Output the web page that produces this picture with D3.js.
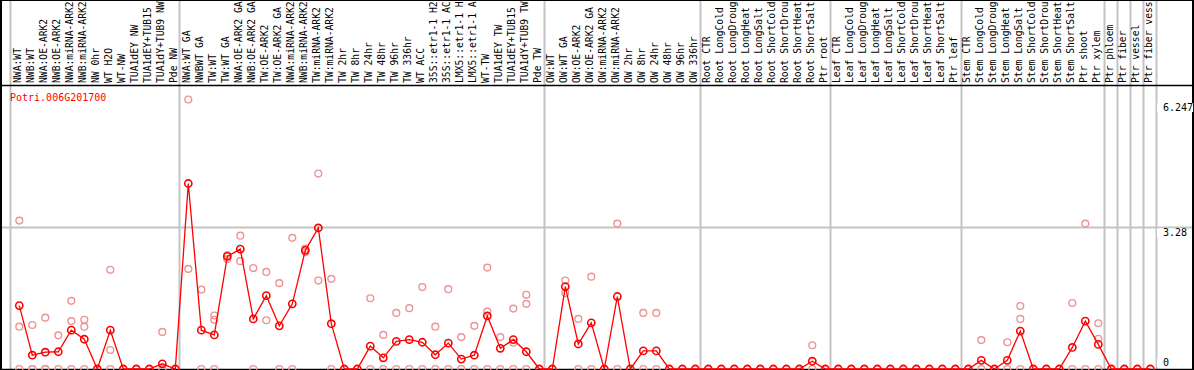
<!DOCTYPE html>
<html>
<head>
<meta charset="utf-8">
<script src="https://cdn.jsdelivr.net/npm/d3@7"></script>
<style>
  body { margin: 0; background: #fff; }
  svg { display: block; font-family: "DejaVu Sans Mono", monospace; font-size: 10px; }
</style>
</head>
<body>
<svg id="chart"></svg>
<script>
// gene shown in the plot
const geneId = 'Potri.006G201700';

// sample names as far as the header shows them
const samples = [
  'NWA:WT', 'NWB:WT', 'NWA:OE-ARK2', 'NWB:OE-ARK2', 'NWA:miRNA-ARK2', 'NWB:miRNA-ARK2', 'NW 0hr', 'WT H2O', 'WT-NW',
  'TUA1dEY NW', 'TUA1dEY+TUB15', 'TUA1dY+TUB9 NW', 'Pde NW',
  'NWA:WT GA', 'NWBWT GA', 'TW:WT', 'TW:WT GA', 'NWA:OE-ARK2 GA', 'NWB:OE-ARK2 GA', 'TW:OE-ARK2', 'TW:OE-ARK2 GA',
  'NWA:miRNA-ARK2', 'NWB:miRNA-ARK2', 'TW:miRNA-ARK2', 'TW:miRNA-ARK2', 'TW 2hr', 'TW 8hr', 'TW 24hr',
  'TW 48hr', 'TW 96hr', 'TW 336hr', 'WT ACC', '35S::etr1-1 H2', '35S::etr1-1 AC', 'LMX5::etr1-1 H',
  'LMX5::etr1-1 A', 'WT-TW', 'TUA1dEY TW', 'TUA1dEY+TUB15', 'TUA1dY+TUB9 TW', 'Pde TW',
  'OW:WT', 'OW:WT GA', 'OW:OE-ARK2', 'OW:OE-ARK2 GA', 'OW:miRNA-ARK2', 'OW:miRNA-ARK2', 'OW 2hr', 'OW 8hr',
  'OW 24hr', 'OW 48hr', 'OW 96hr', 'OW 336hr',
  'Root CTR', 'Root LongCold', 'Root LongDroug', 'Root LongHeat', 'Root LongSalt', 'Root ShortCold',
  'Root ShortDrou', 'Root ShortHeat', 'Root ShortSalt', 'Ptr root',
  'Leaf CTR', 'Leaf LongCold', 'Leaf LongDroug', 'Leaf LongHeat', 'Leaf LongSalt', 'Leaf ShortCold',
  'Leaf ShortDrou', 'Leaf ShortHeat', 'Leaf ShortSalt', 'Ptr leaf',
  'Stem CTR', 'Stem LongCold', 'Stem LongDroug', 'Stem LongHeat', 'Stem LongSalt', 'Stem ShortCold',
  'Stem ShortDrou', 'Stem ShortHeat', 'Stem ShortSalt', 'Ptr shoot', 'Ptr xylem',
  'Ptr phloem', 'Ptr fiber', 'Ptr vessel', 'Ptr fiber vess'
];

// sample index where each group starts (last one = end)
const groupBreaks = [0, 13, 41, 53, 63, 73, 84, 85, 86, 87, 88];

const means = [
  1.47, 0.32, 0.39, 0.40, 0.90, 0.69, 0, 0.90, 0, 0, 0, 0.12, 0,
  4.30, 0.90, 0.79, 2.61, 2.78, 1.16, 1.70, 1.00, 1.51, 2.75, 3.27, 1.05, 0, 0, 0.53,
  0.26, 0.64, 0.68, 0.62, 0.33, 0.60, 0.23, 0.32, 1.23, 0.48, 0.68, 0.40, 0,
  0, 1.91, 0.58, 1.07, 0, 1.68, 0, 0.42, 0.42, 0, 0, 0,
  0, 0, 0, 0, 0, 0, 0, 0, 0.18, 0,
  0, 0, 0, 0, 0, 0, 0, 0, 0, 0,
  0, 0.20, 0, 0.20, 0.88, 0, 0, 0, 0.50, 1.11, 0.57,
  0, 0, 0, 0
];

const replicates = [
  [3.44, 0.98, 0], [1.02, 0, 0], [1.19, 0, 0], [0.78, 0], [1.58, 1.11, 0], [1.14, 0.98, 0], [0], [2.30, 0.44, 0],
  [0], [0], [0], [0.86, 0], [0],
  [6.247, 2.32], [1.84, 0], [1.24, 1.14, 0], [2.64, 2.55], [3.09, 2.50], [2.34, 0], [2.25, 1.13], [1.99, 0],
  [3.04, 0], [2.79, 2.71], [4.53, 2.05], [2.09, 0], [0], [0], [1.64, 0],
  [0.79, 0], [1.30, 0], [1.41, 0], [1.90, 0], [0.98, 0], [1.85, 0], [0.74, 0], [1.00, 0], [2.35, 1.33, 0],
  [0.74, 0], [1.40, 0.61, 0], [1.72, 1.51, 0], [0],
  [0], [2.05, 1.76], [1.16, 0], [2.14, 0], [0], [3.37, 0], [0], [1.30, 0], [1.30, 0], [0], [0], [0],
  [0], [0], [0], [0], [0], [0], [0], [0], [0.55, 0], [0],
  [0], [0], [0], [0], [0], [0], [0], [0], [0], [0],
  [0], [0.67, 0], [0], [0.62, 0], [1.46, 1.16, 0], [0], [0], [0], [1.53, 0], [3.37, 0], [1.06, 0.70, 0],
  [0], [0], [0], [0]
];

const yTicks = [0, 3.28, 6.247];

const width = 1194, height = 370;
const headerBottom = 85;

const svg = d3.select('#chart')
  .attr('width', width)
  .attr('height', height);

svg.append('rect').attr('width', width).attr('height', height).attr('fill', '#fff');

const x = d3.scaleLinear().domain([0, samples.length - 1]).range([19.3, 1150.3]);
const sepX = d3.scaleLinear().domain([0, samples.length]).range([10, 1156]);
const y = d3.scaleLinear().domain([0, d3.max(yTicks)]).range([369, 99.5]);

// group separators
svg.append('g').selectAll('line')
  .data(groupBreaks)
  .join('line')
  .attr('x1', d => Math.round(sepX(d)) + 0.5)
  .attr('x2', d => Math.round(sepX(d)) + 0.5)
  .attr('y1', 0)
  .attr('y2', height)
  .attr('stroke', '#c4c4c4')
  .attr('stroke-width', 2);

// middle gridline
svg.append('line')
  .attr('x1', 0).attr('x2', width)
  .attr('y1', Math.round(y(yTicks[1])) + 0.5)
  .attr('y2', Math.round(y(yTicks[1])) + 0.5)
  .attr('stroke', '#c4c4c4')
  .attr('stroke-width', 2);

// frame
svg.append('line').attr('x1', 0).attr('x2', width).attr('y1', headerBottom + 0.5).attr('y2', headerBottom + 0.5)
  .attr('stroke', '#000').attr('stroke-width', 1.5);
svg.append('line').attr('x1', 0).attr('x2', width).attr('y1', 0.5).attr('y2', 0.5)
  .attr('stroke', '#000').attr('stroke-width', 1);
svg.append('line').attr('x1', 0).attr('x2', width).attr('y1', y(0) + 0.5).attr('y2', y(0) + 0.5)
  .attr('stroke', '#000').attr('stroke-width', 1.5);
svg.append('line').attr('x1', 1).attr('x2', 1).attr('y1', 0).attr('y2', height)
  .attr('stroke', '#000').attr('stroke-width', 2);
svg.append('line').attr('x1', width - 1).attr('x2', width - 1).attr('y1', 0).attr('y2', height)
  .attr('stroke', '#000').attr('stroke-width', 2);

// sample names, rotated
svg.append('g').selectAll('text')
  .data(samples)
  .join('text')
  .attr('transform', (d, i) => `translate(${x(i) + 1.8},${headerBottom - 2}) rotate(-90)`)
  .attr('font-size', 9.7)
  .attr('fill', '#000')
  .text(d => d);

// replicate values
const repPoints = [];
replicates.forEach((vals, i) => vals.forEach(v => repPoints.push({ i: i, v: v })));

svg.append('g').selectAll('circle')
  .data(repPoints)
  .join('circle')
  .attr('cx', d => x(d.i))
  .attr('cy', d => y(d.v))
  .attr('r', 3.4)
  .attr('fill', 'none')
  .attr('stroke', '#ec9494')
  .attr('stroke-width', 1.4);

// mean line
const line = d3.line().x((d, i) => x(i)).y(d => y(d));

svg.append('path')
  .datum(means)
  .attr('d', line)
  .attr('fill', 'none')
  .attr('stroke', '#ff0000')
  .attr('stroke-width', 1.3);

svg.append('g').selectAll('circle')
  .data(means)
  .join('circle')
  .attr('cx', (d, i) => x(i))
  .attr('cy', d => y(d))
  .attr('r', 3.6)
  .attr('fill', 'none')
  .attr('stroke', '#ff0000')
  .attr('stroke-width', 1.6);

// value labels on the right
const tickG = svg.append('g').selectAll('g')
  .data(yTicks)
  .join('g')
  .attr('transform', d => {
    let base = y(d) + 9;
    if (d === d3.max(yTicks)) base = y(d) + 11.5;
    if (d === 0) base = y(d) - 3;
    return `translate(1163,${base})`;
  });

tickG.append('rect')
  .attr('x', -6)
  .attr('y', -8)
  .attr('width', d => String(d).length * 6.02 + 6)
  .attr('height', 9)
  .attr('fill', '#fff');

tickG.append('text')
  .attr('fill', '#000')
  .text(d => d);

svg.append('text')
  .attr('x', 10)
  .attr('y', 101)
  .attr('fill', '#ff0000')
  .text(geneId);
</script>
</body>
</html>
